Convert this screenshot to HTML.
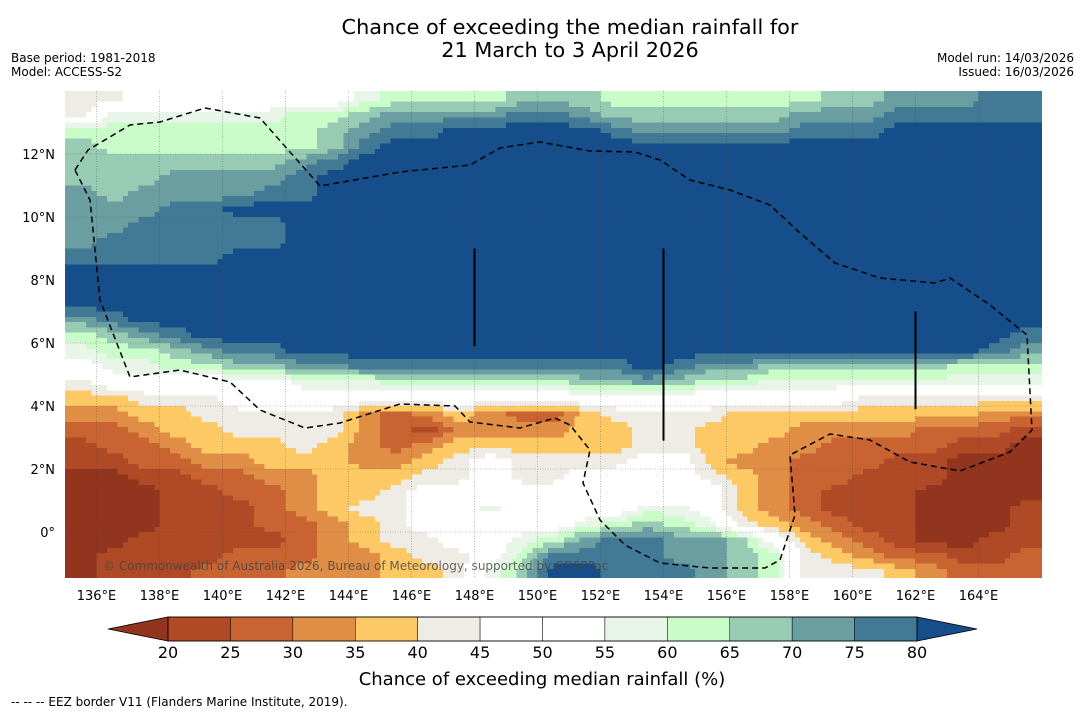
<!DOCTYPE html>
<html><head><meta charset="utf-8"><style>
body{margin:0;background:#fff;}
svg{display:block;font-family:"DejaVu Sans","Liberation Sans",sans-serif;}
</style></head><body>
<svg width="1085" height="713" viewBox="0 0 1085 713">
<g>
<text x="570" y="34" font-size="20.8" text-anchor="middle">Chance of exceeding the median rainfall for</text>
<text x="570" y="57" font-size="20.8" text-anchor="middle">21 March to 3 April 2026</text>
</g>
<text x="11" y="62" font-size="12">Base period: 1981-2018</text>
<text x="11" y="76" font-size="12">Model: ACCESS-S2</text>
<text x="1074" y="62" font-size="12" text-anchor="end">Model run: 14/03/2026</text>
<text x="1074" y="76" font-size="12" text-anchor="end">Issued: 16/03/2026</text>
<defs><clipPath id="mapclip"><rect x="65" y="91" width="977" height="487"/></clipPath></defs>
<g id="map" clip-path="url(#mapclip)"></g>
<g id="axes"></g>
<g id="cbar"></g>
<text x="542" y="685" font-size="18" text-anchor="middle">Chance of exceeding median rainfall (%)</text>
<text x="11" y="706" font-size="12">--  --  -- EEZ border V11 (Flanders Marine Institute, 2019).</text>
</svg>
<script>
const levels=[20,25,30,35,40,45,50,55,60,65,70,75,80];
const colors=["#93341f","#b04a26","#c96432","#e08e45","#fdc965","#efebe5","#ffffff","#ffffff","#e8f5e8","#c9fcc9","#98cbb4","#6a9ea0","#427a96","#154e8a"];
const lonTicks=[136,138,140,142,144,146,148,150,152,154,156,158,160,162,164];
const latTicks=[0,2,4,6,8,10,12];
const latLabels=["0°","2°N","4°N","6°N","8°N","10°N","12°N"];
const lonStart=135, latTop=14, dLon=1, dLat=0.5;
const codeValues=[17.5,22.5,27.5,32.5,37.5,42.5,50,57.5,62.5,67.5,72.5,77.5,82.5];
const rainRows=[
"5566666667"+"8888999888"+"888899AAABB",
"5777777889"+"AAAABBA999"+"999AAABBBBB",
"888888889A"+"BBCCCCCBAA"+"AAABBBCCCCC",
"988888889B"+"CCCCCCCCCC"+"CCCCCCCCCCC",
"9999999ABC"+"CCCCCCCCCC"+"CCCCCCCCCCC",
"999AAAABCC"+"CCCCCCCCCC"+"CCCCCCCCCCC",
"A9AAAABBCC"+"CCCCCCCCCC"+"CCCCCCCCCCC",
"AAABBCCCCC"+"CCCCCCCCCC"+"CCCCCCCCCCC",
"AABBBBBCCC"+"CCCCCCCCCC"+"CCCCCCCCCCC",
"ABBBBBBCCC"+"CCCCCCCCCC"+"CCCCCCCCCCC",
"BBBBBCCCCC"+"CCCCCCCCCC"+"CCCCCCCCCCC",
"CCCCCCCCCC"+"CCCCCCCCCC"+"CCCCCCCCCCC",
"CCCCCCCCCC"+"CCCCCCCCCC"+"CCCCCCCCCCC",
"CCCCCCCCCC"+"CCCCCCCCCC"+"CCCCCCCCCCC",
"ABCCCCCCCC"+"CCCCCCCCCC"+"CCCCCCCCCCC",
"89ABCCCCCC"+"CCCCCCCCCC"+"CCCCCCCCCCB",
"7889ABBCCC"+"CCCCCCCCCC"+"CCCCCCCCCBA",
"6778899AAB"+"BBBBBBBBCB"+"AA999999888",
"5666666777"+"88888899A9"+"88777777777",
"4455566666"+"6666666666"+"66666555555",
"3344555553"+"2343224555"+"54444444433",
"2234455553"+"2133334455"+"44433332221",
"1223444543"+"2344444455"+"44332222110",
"1122334443"+"3456555566"+"43322211000",
"0011223344"+"4556556666"+"54322111000",
"0001122344"+"5666666666"+"64321110000",
"0001112345"+"5667666677"+"64321110001",
"0001112234"+"5666667898"+"75432110001",
"0011111234"+"556678ABBA"+"A9643210011",
"0111122233"+"45568BBBBA"+"A9854322112",
"0111222333"+"44579CCBBB"+"A9855543222"];
const NS="http://www.w3.org/2000/svg";
const x0=65,pxDeg=31.5,y0=91;
function xScale(lon){return x0+(lon-lonStart)*pxDeg;}
function yScale(lat){return y0+(latTop-lat)*pxDeg;}
function colorFor(v){let i=0;while(i<levels.length&&v>=levels[i])i++;return colors[i];}
function mk(tag,attrs,parent){const e=document.createElementNS(NS,tag);for(const k in attrs)e.setAttribute(k,attrs[k]);parent.appendChild(e);return e;}
const map=document.getElementById('map');
const values=rainRows.map(r=>r.split('').map(c=>codeValues[parseInt(c,16)]));
const nR=values.length,nC=values[0].length;
function sample(lon,lat){
 let fc=(lon-lonStart)/dLon-0.5, fr=(latTop-lat)/dLat-0.5;
 fc=Math.max(0,Math.min(nC-1,fc)); fr=Math.max(0,Math.min(nR-1,fr));
 const c0=Math.floor(fc),r0=Math.floor(fr),c1=Math.min(nC-1,c0+1),r1=Math.min(nR-1,r0+1);
 const tx=fc-c0,ty=fr-r0;
 const a=values[r0][c0]*(1-tx)+values[r0][c1]*tx, b=values[r1][c0]*(1-tx)+values[r1][c1]*tx;
 return a*(1-ty)+b*ty;
}
const sub=6;
const sLon=dLon/sub, sLat=dLat/3;
for(let lat=latTop; lat>-1.5-1e-9; lat-=sLat){
 let runStart=lonStart, runCol=null;
 for(let lon=lonStart; lon<=lonStart+nC*dLon+1e-9; lon+=sLon){
  const end=lon>=lonStart+nC*dLon-1e-9;
  const col=end?null:colorFor(sample(lon+sLon/2,lat-sLat/2));
  if(col!==runCol){
   if(runCol!==null){
    const r=mk('rect',{x:xScale(runStart),y:yScale(lat),width:(lon-runStart)*pxDeg+0.5,height:sLat*pxDeg+0.5,fill:runCol,'shape-rendering':'crispEdges'},map);
    
    
   }
   runStart=lon; runCol=col;
  }
  if(end)break;
 }
}
lonTicks.forEach(l=>{const g=mk('line',{x1:xScale(l),x2:xScale(l),y1:91,y2:578,stroke:'#444','stroke-width':0.6,'stroke-dasharray':'1,1.5',opacity:0.6},map);
});
latTicks.forEach(l=>{const g=mk('line',{x1:65,x2:1042,y1:yScale(l),y2:yScale(l),stroke:'#444','stroke-width':0.6,'stroke-dasharray':'1,1.5',opacity:0.6},map);
});
const eez=mk('path',{d:"M75,170 L88,150 L130,125 L160,122 L205,108 L260,118 L320,186 L400,172 L470,165 L500,148 L540,142 L590,151 L635,152 L660,160 L690,180 L730,190 L770,205 L800,233 L835,263 L880,278 L935,283 L950,278 L990,305 L1027,335 L1032,430 L1010,452 L960,471 L910,462 L870,440 L830,434 L790,455 L795,515 L780,560 L765,568 L710,568 L660,563 L625,545 L600,520 L583,483 L590,450 L570,425 L555,418 L520,428 L470,422 L455,406 L400,404 L340,423 L305,428 L260,410 L230,382 L180,370 L130,377 L100,300 L90,200 Z",fill:'none',stroke:'#000','stroke-width':1.5,'stroke-dasharray':'6,4'},map);

[[148,9,5.9],[154,9,2.9],[162,7,3.9]].forEach(s=>{const l=mk('line',{x1:xScale(s[0]),x2:xScale(s[0]),y1:yScale(s[1]),y2:yScale(s[2]),stroke:'#000','stroke-width':2},map);
});
const cp=mk('text',{x:103,y:570,'font-size':12,fill:'#444',opacity:0.8},map);cp.textContent="© Commonwealth of Australia 2026, Bureau of Meteorology, supported by COSPPac";

const axes=document.getElementById('axes');
lonTicks.forEach(l=>{const t=mk('text',{x:xScale(l),y:600,'font-size':13,'text-anchor':'middle'},axes);t.textContent=l+"°E";
});
latTicks.forEach((l,i)=>{const t=mk('text',{x:55,y:yScale(l)+5,'font-size':13,'text-anchor':'end'},axes);t.textContent=latLabels[i];
});
const cb=document.getElementById('cbar');
const cbx0=168,cbx1=917,cby=617,cbh=24,bw=(cbx1-cbx0)/(levels.length-1);
const lt=mk('polygon',{points:`108,${cby+cbh/2} ${cbx0},${cby} ${cbx0},${cby+cbh}`,fill:colors[0],stroke:'#000','stroke-width':0.8},cb);

const rt=mk('polygon',{points:`977,${cby+cbh/2} ${cbx1},${cby} ${cbx1},${cby+cbh}`,fill:colors[colors.length-1],stroke:'#000','stroke-width':0.8},cb);

for(let i=0;i<levels.length-1;i++){const r=mk('rect',{x:cbx0+i*bw,y:cby,width:bw,height:cbh,fill:colors[i+1],stroke:'#000','stroke-width':0.5},cb);
}
mk('rect',{x:cbx0,y:cby,width:cbx1-cbx0,height:cbh,fill:'none',stroke:'#000','stroke-width':0.8},cb);
levels.forEach((l,i)=>{const t=mk('text',{x:cbx0+i*bw,y:658,'font-size':16,'text-anchor':'middle'},cb);t.textContent=l;
});
</script>
</body></html>
